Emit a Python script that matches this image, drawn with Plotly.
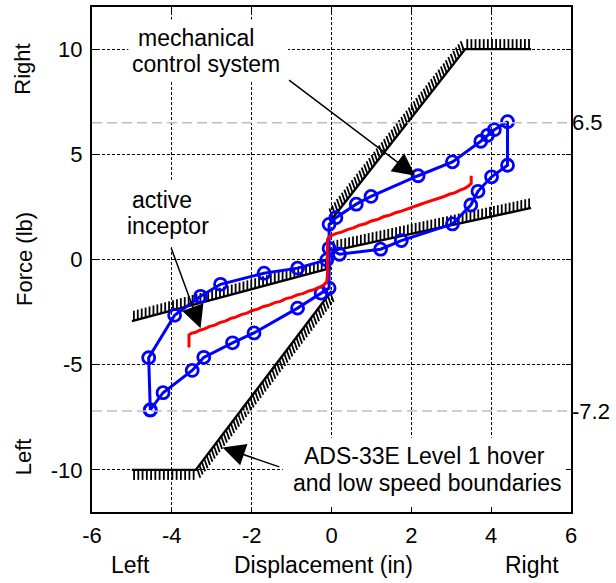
import plotly.graph_objects as go

# ---------------- data ----------------
# mechanical control system (blue loop)
mech_x = [-4.54, -4.22, -3.49, -3.20, -2.48, -1.94, -0.85, -0.26, -0.06,
          -0.06, 0.11, 0.62, 0.99, 2.17, 3.03, 3.74, 3.91, 4.08, 4.41,
          4.41, 4.01, 3.67, 3.49, 3.03, 1.75, 1.23, 0.20, -0.06, -0.12,
          -0.85, -1.69, -2.78, -3.28, -3.93, -4.58, -4.54]
mech_y = [-7.15, -6.33, -5.27, -4.65, -3.96, -3.49, -2.31, -1.60, -1.36,
          1.67, 1.99, 2.63, 3.00, 3.98, 4.64, 5.62, 5.90, 6.17, 6.55,
          4.48, 3.93, 3.24, 2.59, 1.69, 0.90, 0.49, 0.25, 0.53, -0.02,
          -0.41, -0.65, -1.18, -1.75, -2.65, -4.67, -7.15]

# active inceptor (red trace)
act_x = [-3.57, -3.57, -3.50, -3.42, -3.30, -3.18, -3.05, -2.92, -2.80, -2.66,
         -2.52, -2.40, -2.26, -2.12, -1.98, -1.85, -1.70, -1.56, -1.42, -1.28,
         -1.14, -1.00, -0.86, -0.72, -0.58, -0.45, -0.32, -0.20, -0.12, -0.10,
         -0.10, -0.06, 0.02, 0.12, 0.25, 0.40, 0.55, 0.70, 0.85, 1.00, 1.15,
         1.30, 1.45, 1.60, 1.75, 1.90, 2.05, 2.20, 2.35, 2.50, 2.65, 2.80,
         2.95, 3.10, 3.22, 3.34, 3.44, 3.50, 3.50]
act_y = [-4.18, -3.58, -3.50, -3.47, -3.36, -3.30, -3.18, -3.12, -3.00, -2.93,
         -2.80, -2.74, -2.62, -2.55, -2.42, -2.36, -2.23, -2.17, -2.05, -1.99,
         -1.86, -1.80, -1.68, -1.62, -1.50, -1.44, -1.33, -1.22, -1.06, -0.70,
         0.95, 1.10, 1.16, 1.24, 1.30, 1.42, 1.50, 1.63, 1.70, 1.83, 1.90,
         2.03, 2.10, 2.22, 2.30, 2.41, 2.50, 2.60, 2.70, 2.79, 2.90, 2.98,
         3.10, 3.18, 3.30, 3.38, 3.50, 3.62, 3.98]

# ADS-33E Level 1 boundaries
steep_hi_x = [0.0, 3.35, 5.0]
steep_hi_y = [1.9, 10.0, 10.0]
steep_lo_x = [-5.0, -3.40, 0.0]
steep_lo_y = [-10.0, -10.0, -1.5]
shallow_hi_x = [0.0, 5.0]
shallow_hi_y = [0.40, 2.45]
shallow_lo_x = [-5.0, 0.0]
shallow_lo_y = [-2.93, -0.40]

# reference levels
ref_levels = [6.5, -7.2]
ref_labels = ["6.5", "-7.2"]

x_ticks = [-6, -4, -2, 0, 2, 4, 6]
x_tick_text = ["-6", "-4", "-2", "0", "2", "4", "6"]
y_ticks = [-10, -5, 0, 5, 10]
y_tick_text = ["-10", "-5", "0", "5", "10"]

# ---------------- layout geometry ----------------
X_RANGE = [-6, 6]
Y_RANGE = [-12, 12]
W, H = 616, 583
M = dict(l=92, r=45, t=5, b=71)
PW = W - M['l'] - M['r']
PH = H - M['t'] - M['b']
SX = PW / (X_RANGE[1] - X_RANGE[0])
SY = PH / (Y_RANGE[1] - Y_RANGE[0])

FONT = "Liberation Sans, Arial, sans-serif"
FS = 22
FS_TXT = 23


def hatch(xs, ys, dirs, spacing=4.0, length=10):
    hx, hy = [], []
    for i in range(len(xs) - 1):
        x0, y0, x1, y1 = xs[i], ys[i], xs[i + 1], ys[i + 1]
        dxp = (x1 - x0) * SX
        dyp = (y1 - y0) * SY
        L = (dxp ** 2 + dyp ** 2) ** 0.5
        n = max(int(L // spacing), 1)
        ux, uy = dirs[i]
        nrm = (ux ** 2 + uy ** 2) ** 0.5
        ux, uy = ux / nrm * length, uy / nrm * length
        for k in range(n):
            t = (k + 0.5) / n
            px = x0 + (x1 - x0) * t
            py = y0 + (y1 - y0) * t
            hx += [px, px + ux / SX, None]
            hy += [py, py + uy / SY, None]
    return hx, hy


fig = go.Figure()

# reference dashed lines (on secondary axis, carries the right-side labels)
for lv in ref_levels:
    fig.add_trace(go.Scatter(x=X_RANGE, y=[lv, lv], yaxis="y2", mode="lines",
                             line=dict(color="#BDBDBD", width=1.5, dash="10px,5px"),
                             showlegend=False, hoverinfo="skip"))

# boundaries
boundaries = [
    (steep_hi_x, steep_hi_y, [(-0.35, 1), (0, 1)]),
    (steep_lo_x, steep_lo_y, [(0, -1), (0.35, -1)]),
    (shallow_hi_x, shallow_hi_y, [(0, 1)]),
    (shallow_lo_x, shallow_lo_y, [(0, 1)]),
]
for bx, by, dirs in boundaries:
    hx, hy = hatch(bx, by, dirs)
    fig.add_trace(go.Scatter(x=hx, y=hy, mode="lines",
                             line=dict(color="black", width=1.8),
                             showlegend=False, hoverinfo="skip"))
    fig.add_trace(go.Scatter(x=bx, y=by, mode="lines",
                             line=dict(color="black", width=2.4),
                             showlegend=False, hoverinfo="skip"))

# mechanical control system
fig.add_trace(go.Scatter(x=mech_x, y=mech_y, mode="lines+markers",
                         line=dict(color="#0000FF", width=3),
                         marker=dict(symbol="circle-open", size=12, color="#0000FF",
                                     line=dict(width=2.8, color="#0000FF")),
                         showlegend=False))

# active inceptor
fig.add_trace(go.Scatter(x=act_x, y=act_y, mode="lines",
                         line=dict(color="#FF0000", width=3),
                         showlegend=False))

# white label boxes (between grid and traces)
boxes = [(-5.09, -1.09, 8.43, 11.41),
         (-5.31, -2.81, 0.62, 3.79),
         (-1.22, 5.92, -11.74, -8.47)]
shapes = [dict(type="rect", xref="x", yref="y", x0=a, x1=b, y0=c, y1=d,
               fillcolor="white", line=dict(width=0), layer="between")
          for a, b, c, d in boxes]


def px2x(p):
    return X_RANGE[0] + (p - M['l']) / SX


def py2y(p):
    return Y_RANGE[1] - (p - M['t']) / SY


texts = [("mechanical", 196, 36), ("control system", 206, 62),
         ("active", 162, 199), ("inceptor", 168, 225),
         ("ADS-33E Level 1 hover", 424, 456), ("and low speed boundaries", 427, 483)]
annotations = [dict(text=t, x=px2x(px), y=py2y(py), xref="x", yref="y",
                    showarrow=False, xanchor="center", yanchor="middle",
                    font=dict(family=FONT, size=FS_TXT, color="black"))
               for t, px, py in texts]

arrows = [((-1.10, 8.58), (2.10, 3.98)),
          ((-4.03, 0.62), (-3.28, -3.27)),
          ((-1.27, -9.88), (-2.73, -8.93))]
for (tx, ty), (hx_, hy_) in arrows:
    annotations.append(dict(text="", x=hx_, y=hy_, ax=tx, ay=ty, xref="x", yref="y",
                            axref="x", ayref="y", showarrow=True, arrowhead=2,
                            arrowsize=3.0, arrowwidth=1.5, arrowcolor="black"))

# axis side labels
side = [("Right", (23 - 92) / PW, (512 - 68) / PH, -90, FS),
        ("Force (lb)", (24 - 92) / PW, (512 - 258) / PH, -90, FS),
        ("Left", (23 - 92) / PW, (512 - 457) / PH, -90, FS),
        ("Left", (130 - 92) / PW, (512 - 565) / PH, 0, FS_TXT),
        ("Displacement (in)", (323 - 92) / PW, (512 - 565) / PH, 0, FS_TXT),
        ("Right", (532 - 92) / PW, (512 - 565) / PH, 0, FS_TXT)]
for t, x, y, ang, fs in side:
    annotations.append(dict(text=t, x=x, y=y, xref="paper", yref="paper",
                            showarrow=False, xanchor="center", yanchor="middle",
                            textangle=ang, font=dict(family=FONT, size=fs, color="black")))

axis_common = dict(showline=True, linecolor="black", linewidth=2, mirror="ticks",
                   ticks="inside", ticklen=5, tickwidth=1, tickcolor="black",
                   showgrid=True, gridcolor="black", gridwidth=1, griddash="3px,2px",
                   zeroline=False, ticklabelstandoff=3,
                   tickfont=dict(family=FONT, size=FS, color="black"))

fig.update_layout(
    width=W, height=H, margin=M,
    paper_bgcolor="white", plot_bgcolor="white",
    showlegend=False,
    xaxis=dict(range=X_RANGE, tickvals=x_ticks, ticktext=x_tick_text, **axis_common),
    yaxis=dict(range=Y_RANGE, tickvals=y_ticks, ticktext=y_tick_text, **axis_common),
    yaxis2=dict(range=Y_RANGE, overlaying="y", side="right", tickvals=ref_levels,
                ticktext=ref_labels, showgrid=False, zeroline=False, showline=False,
                ticks="", tickfont=dict(family=FONT, size=FS, color="black")),
    shapes=shapes,
    annotations=annotations,
)

fig.write_html("out.html")
